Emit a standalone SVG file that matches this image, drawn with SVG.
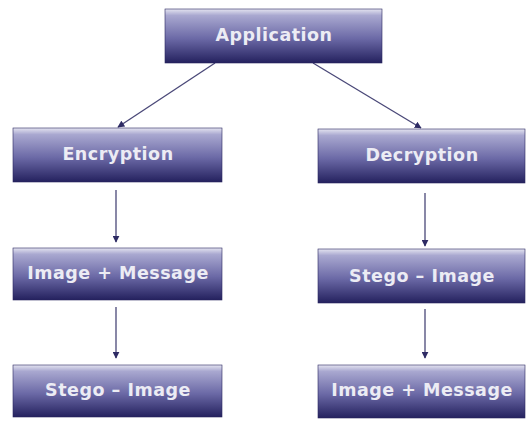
<svg xmlns="http://www.w3.org/2000/svg" width="528" height="422" viewBox="0 0 528 422">
<defs>
<linearGradient id="g" x1="0" y1="0" x2="0" y2="1">
<stop offset="0" stop-color="#e4e4f0"/>
<stop offset="0.12" stop-color="#a9a8d0"/>
<stop offset="0.55" stop-color="#6b69a6"/>
<stop offset="1" stop-color="#24215e"/>
</linearGradient>
<marker id="ah" viewBox="0 0 10 10" refX="9" refY="5" markerWidth="7" markerHeight="7" orient="auto" markerUnits="userSpaceOnUse">
<path d="M0,0 L10,5 L0,10 z" fill="#2e2b64"/>
</marker>
</defs>
<style>
.box{fill:url(#g);stroke:#2a2760;stroke-width:0.6}
.t{font-family:"DejaVu Sans","Liberation Sans",sans-serif;font-weight:bold;font-size:17.5px;letter-spacing:0.5px;fill:#ececf4;text-anchor:middle;dominant-baseline:central}
.c{stroke:#4a4878;stroke-width:1.3;fill:none;marker-end:url(#ah)}
</style>
<rect width="528" height="422" fill="#ffffff"/>
<g id="connectors">
<line class="c" x1="215" y1="63" x2="118" y2="127"/>
<line class="c" x1="313" y1="63" x2="421" y2="128"/>
<line class="c" x1="116" y1="190" x2="116" y2="242"/>
<line class="c" x1="116" y1="307" x2="116" y2="358"/>
<line class="c" x1="425" y1="193" x2="425" y2="246"/>
<line class="c" x1="425" y1="309" x2="425" y2="358"/>
</g>
<g id="application"><rect class="box" x="165" y="9" width="217" height="54"/><text class="t" x="274" y="35">Application</text></g>
<g id="encryption"><rect class="box" x="13" y="128" width="209" height="54"/><text class="t" x="118" y="154">Encryption</text></g>
<g id="decryption"><rect class="box" x="318" y="129" width="207" height="54"/><text class="t" x="422" y="155">Decryption</text></g>
<g id="enc-image-message"><rect class="box" x="13" y="248" width="209" height="52"/><text class="t" x="118" y="273">Image + Message</text></g>
<g id="enc-stego-image"><rect class="box" x="13" y="365" width="209" height="52"/><text class="t" x="118" y="390">Stego – Image</text></g>
<g id="dec-stego-image"><rect class="box" x="318" y="249" width="207" height="54"/><text class="t" x="422" y="276">Stego – Image</text></g>
<g id="dec-image-message"><rect class="box" x="318" y="365" width="207" height="53"/><text class="t" x="422" y="390">Image + Message</text></g>
</svg>
